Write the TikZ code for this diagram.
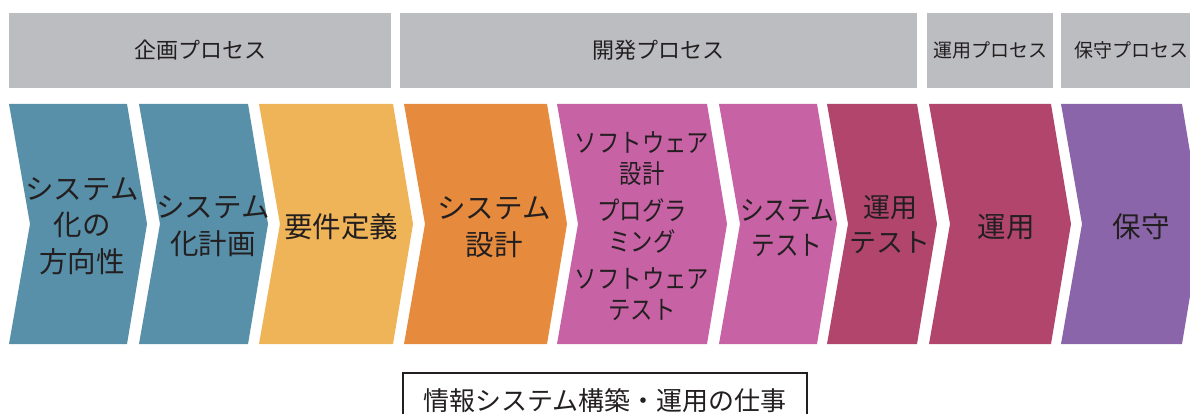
\documentclass[tikz,border=0pt]{standalone}
\usepackage{fontspec}
\setmainfont{Noto Sans CJK JP}
\newfontfamily\narrowfont[FakeStretch=0.86]{Noto Sans CJK JP}
\definecolor{procgray}{HTML}{BCBDC1}
\definecolor{planteal}{HTML}{5790A8}
\definecolor{reqyellow}{HTML}{EFB457}
\definecolor{sysorange}{HTML}{E68B3D}
\definecolor{devpink}{HTML}{C762A4}
\definecolor{opscrimson}{HTML}{B2456C}
\definecolor{maintpurple}{HTML}{8B65AA}
\definecolor{inkgray}{HTML}{231F20}
\newcommand{\chevron}[3]{\fill[#3] (#1,104) -- (#2,104) -- ++(20,120) -- (#2,344) -- (#1,344) -- ++(21,-120) -- cycle;}

\begin{document}
\begin{tikzpicture}[x=1pt,y=-1pt,
  procbox/.style={rectangle,fill=procgray,inner sep=0pt,minimum height=75pt,text=inkgray,font=\fontsize{22}{26}\selectfont},
  steptext/.style={align=center,inner sep=0pt,text=inkgray,font=\fontsize{28.5}{36.5}\selectfont}]
  \useasboundingbox (0,0) rectangle (1190,414);

  \node[procbox,minimum width=382pt] (plan) at (200,50.5) {企画プロセス};
  \node[procbox,minimum width=517pt] (dev) at (658.5,50.5) {開発プロセス};
  \node[procbox,minimum width=126pt,font=\fontsize{19}{23}\selectfont] (oper) at (990,50.5) {運用プロセス};
  \node[procbox,minimum width=141pt,font=\fontsize{19}{23}\selectfont] (maintproc) at (1131.5,50.5) {保守プロセス};

  \chevron{9}{127}{planteal}
  \chevron{139}{248}{planteal}
  \chevron{259}{393}{reqyellow}
  \chevron{404}{547}{sysorange}
  \chevron{557}{707}{devpink}
  \chevron{719}{817}{devpink}
  \chevron{827}{917}{opscrimson}
  \chevron{929}{1051}{opscrimson}
  \chevron{1061}{1182}{maintpurple}

  \node[steptext] (vision) at (82,226) {システム\\化の\\方向性};
  \node[steptext] (sysplan) at (213,226) {システム\\化計画};
  \node[steptext] (req) at (341,227) {要件定義};
  \node[steptext] (sysdesign) at (494,227) {システム\\設計};
  \node[steptext,font=\narrowfont\fontsize{26}{31}\selectfont] (softdev) at (642,226) {ソフトウェア\\設計\\[6pt]プログラ\\ミング\\[6pt]ソフトウェア\\テスト};
  \node[steptext,font=\narrowfont\fontsize{27.5}{35}\selectfont] (systest) at (787,228) {システム\\テスト};
  \node[steptext,font=\fontsize{27}{35}\selectfont] (optest) at (890,225) {運用\\テスト};
  \node[steptext] (ops) at (1006,227) {運用};
  \node[steptext] (maint) at (1141,227) {保守};

  \node[draw=inkgray,line width=1.3pt,minimum width=404pt,minimum height=56pt,text=inkgray,font=\fontsize{26}{31}\selectfont] (caption) at (605,401) {情報システム構築・運用の仕事};
\end{tikzpicture}
\end{document}
